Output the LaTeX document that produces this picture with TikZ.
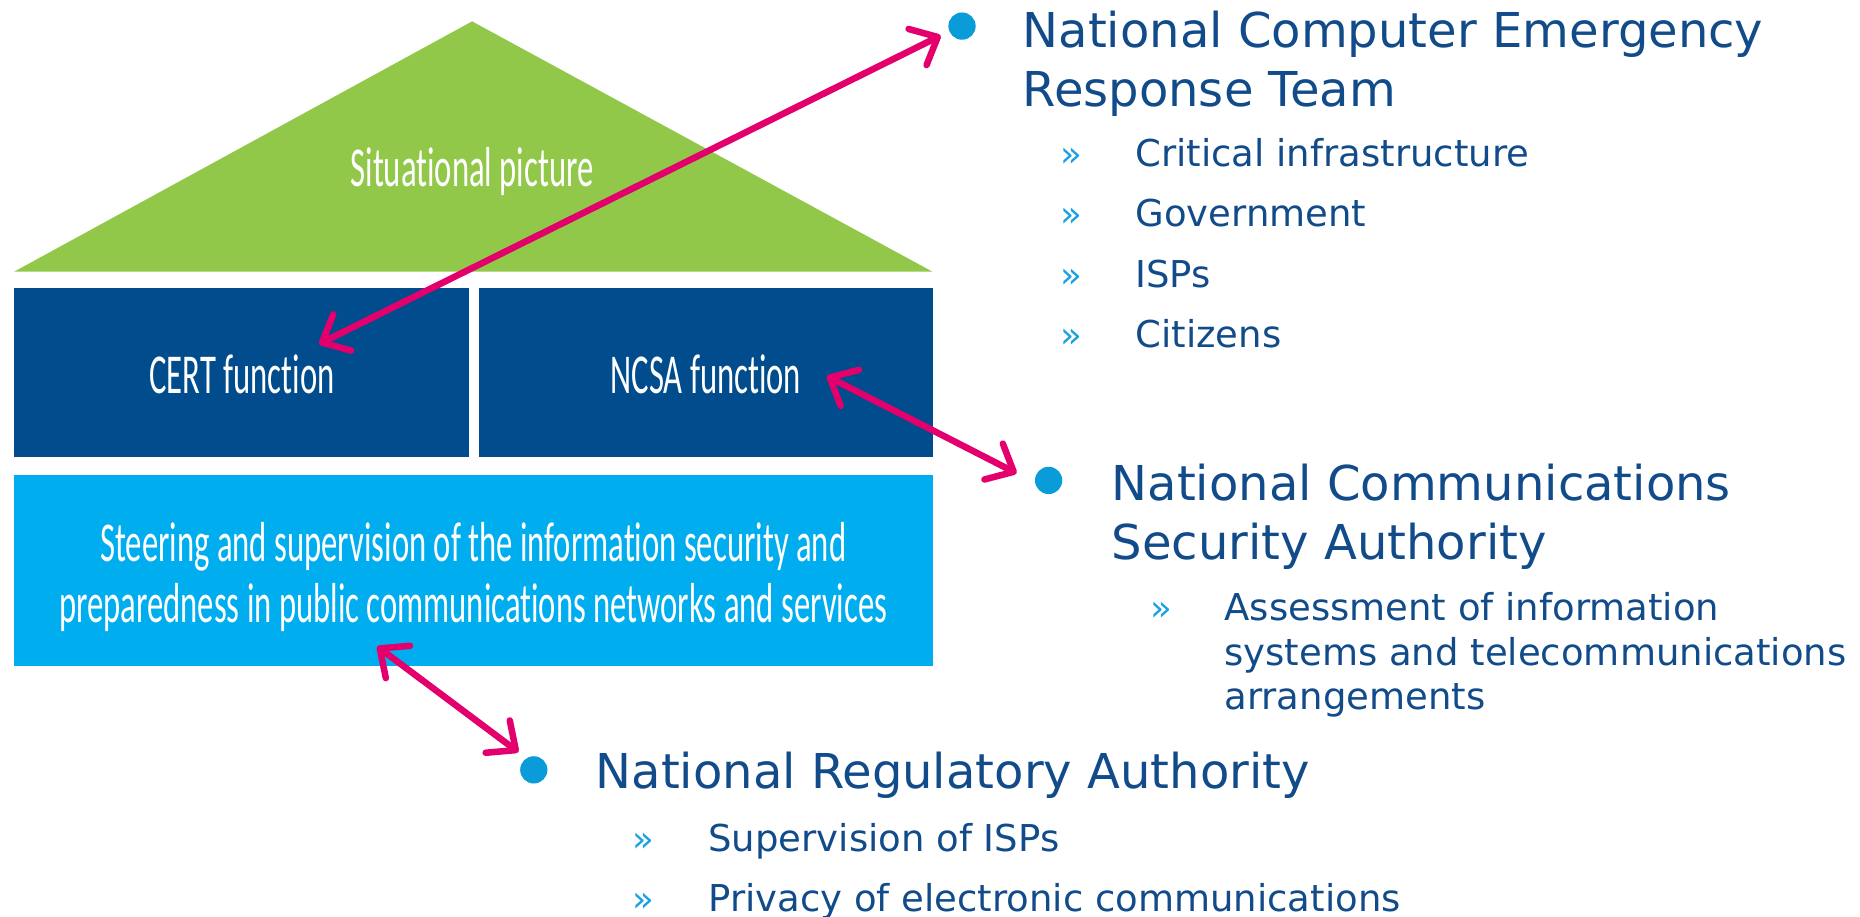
\documentclass[tikz,border=0pt]{standalone}
\usepackage{fontspec}
\setmainfont{DejaVu Sans}
\newfontfamily\boxfont[FakeStretch=0.58,Ligatures={NoCommon,NoRare}]{Carlito}
\usetikzlibrary{arrows.meta}
\definecolor{housegreen}{HTML}{92C84A}
\definecolor{darkbox}{HTML}{004C8C}
\definecolor{lightbox}{HTML}{00AEEF}
\definecolor{txtblue}{HTML}{124B8A}
\definecolor{dotblue}{HTML}{0A9BD9}
\definecolor{chevblue}{HTML}{1BA1E2}
\definecolor{linkpink}{HTML}{E3006C}
\tikzset{
  titletext/.style={anchor=base west, text=txtblue, inner sep=0pt, font=\fontsize{40.5}{48}\selectfont},
  subtext/.style={anchor=base west, text=txtblue, inner sep=0pt, font=\fontsize{31.2}{38}\selectfont},
  chev/.style={anchor=base west, text=chevblue, inner sep=0pt, font=\fontsize{30}{34}\selectfont},
  boxlabel/.style={text=white, inner sep=0pt, align=center, font=\boxfont\fontsize{47.5}{52}\selectfont},
  housebox/.style={rectangle, inner sep=0pt, anchor=north west},
  bulletdot/.style={circle, fill=dotblue, minimum size=23pt, inner sep=0pt},
  link/.style={draw=linkpink, line width=5.5pt, line cap=round, line join=round,
    {Straight Barb[length=19pt,width=34pt,line cap=round,line join=round]}-{Straight Barb[length=19pt,width=34pt,line cap=round,line join=round]}}
}
\begin{document}
\begin{tikzpicture}[x=1pt,y=-1pt]
\useasboundingbox (0,0) rectangle (1568,773);
% house
\fill[housegreen] (12,229) -- (398,18) -- (786,229) -- cycle;
\node[boxlabel, anchor=base] (roof) at (398,157) {Situational picture};
\node[housebox, fill=darkbox, minimum width=383pt, minimum height=142pt] (certbox) at (12,243) {};
\node[housebox, fill=darkbox, minimum width=382pt, minimum height=142pt] (ncsabox) at (404,243) {};
\node[housebox, fill=lightbox, minimum width=774pt, minimum height=161pt] (nrabox) at (12,400) {};
\node[boxlabel, anchor=base] (certtxt) at (204,332) {CERT function};
\node[boxlabel, anchor=base] (ncsatxt) at (595,332) {NCSA function};
\node[boxlabel, anchor=base] (nratxt1) at (399,473) {Steering and supervision of the information security and};
\node[boxlabel, anchor=base] (nratxt2) at (399,525) {preparedness in public communications networks and services};
% CERT list
\node[bulletdot] (dot1) at (811,22) {};
\node[titletext] (t1a) at (862,40) {National Computer Emergency};
\node[titletext] (t1b) at (862,90) {Response Team};
\node[chev] (c1a) at (894,140) {»};
\node[subtext] (s1a) at (957,140) {Critical infrastructure};
\node[chev] (c1b) at (894,191) {»};
\node[subtext] (s1b) at (957,191) {Government};
\node[chev] (c1c) at (894,242) {»};
\node[subtext] (s1c) at (957,242) {ISPs};
\node[chev] (c1d) at (894,293) {»};
\node[subtext] (s1d) at (957,293) {Citizens};
% NCSA list
\node[bulletdot] (dot2) at (884,405) {};
\node[titletext] (t2a) at (937,422) {National Communications};
\node[titletext] (t2b) at (937,472) {Security Authority};
\node[chev] (c2a) at (970,523) {»};
\node[subtext] (s2a) at (1032,523) {Assessment of information};
\node[subtext] (s2b) at (1032,561) {systems and telecommunications};
\node[subtext] (s2c) at (1032,598) {arrangements};
% NRA list
\node[bulletdot] (dot3) at (450,649) {};
\node[titletext] (t3a) at (502,665) {National Regulatory Authority};
\node[chev] (c3a) at (533,718) {»};
\node[subtext] (s3a) at (597,718) {Supervision of ISPs};
\node[chev] (c3b) at (533,768) {»};
\node[subtext] (s3b) at (597,768) {Privacy of electronic communications};
% connectors
\coordinate (e1a) at (269,290);
\coordinate (e1b) at ([shift={(-18,8)}]dot1.center);
\coordinate (e2a) at (697,317);
\coordinate (e2b) at ([shift={(-27,-6)}]dot2.center);
\coordinate (e3a) at (318,545);
\coordinate (e3b) at ([shift={(-13,-15)}]dot3.center);
\draw[link] (e1a) -- (e1b);
\draw[link] (e2a) -- (e2b);
\draw[link] (e3a) -- (e3b);
\end{tikzpicture}
\end{document}
